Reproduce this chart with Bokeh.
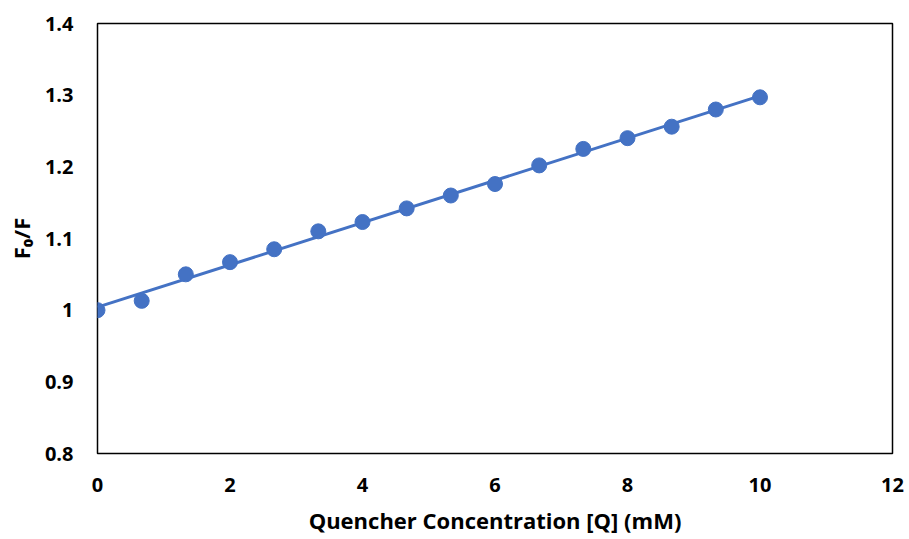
import numpy as np
from bokeh.plotting import figure
from bokeh.models import FixedTicker, Range1d
from bokeh.embed import file_html
from bokeh.resources import INLINE

# Data
conc = [0, 0.667, 1.333, 2, 2.667, 3.333, 4, 4.667, 5.333, 6, 6.667, 7.333, 8, 8.667, 9.333, 10]
f0_f = [1.0, 1.013, 1.05, 1.067, 1.085, 1.11, 1.123, 1.142, 1.16, 1.176, 1.202, 1.225, 1.24, 1.256, 1.28, 1.297]

x_ticks = [0, 2, 4, 6, 8, 10, 12]
x_tick_labels = ["0", "2", "4", "6", "8", "10", "12"]
y_ticks = [0.8, 0.9, 1.0, 1.1, 1.2, 1.3, 1.4]
y_tick_labels = ["0.8", "0.9", "1", "1.1", "1.2", "1.3", "1.4"]

BLUE = "#4472C4"
FONT = "Open Sans"

p = figure(width=909, height=539, output_backend="svg", toolbar_location=None,
           x_range=Range1d(0, 12), y_range=Range1d(0.8, 1.4),
           min_border_left=97, min_border_right=17, min_border_top=23, min_border_bottom=86)

# linear trendline (least squares fit of the data)
slope, intercept = np.polyfit(conc, f0_f, 1)
fit_x = [min(conc), max(conc)]
fit_y = [intercept + slope * v for v in fit_x]
p.line(fit_x, fit_y, line_color=BLUE, line_width=3)
p.scatter(conc, f0_f, size=15, fill_color=BLUE, line_color=BLUE)

p.outline_line_color = "black"
p.outline_line_width = 1.5
p.xgrid.visible = False
p.ygrid.visible = False

for ax in (p.xaxis[0], p.yaxis[0]):
    ax.axis_line_color = None
    ax.major_tick_line_color = None
    ax.minor_tick_line_color = None
    ax.major_label_text_font = FONT
    ax.major_label_text_font_style = "bold"
    ax.major_label_text_font_size = "20px"
    ax.major_label_text_color = "#000000"
    ax.axis_label_text_font = FONT
    ax.axis_label_text_font_style = "bold"
    ax.axis_label_text_font_size = "22px"
    ax.axis_label_text_color = "#000000"

p.xaxis.ticker = FixedTicker(ticks=x_ticks)
p.xaxis.major_label_overrides = dict(zip(x_ticks, x_tick_labels))
p.yaxis.ticker = FixedTicker(ticks=y_ticks)
p.yaxis.major_label_overrides = dict(zip(y_ticks, y_tick_labels))

p.xaxis.major_label_standoff = 18
p.yaxis.major_label_standoff = 18
p.xaxis.axis_label = "Quencher Concentration [Q] (mM)"
p.yaxis.axis_label = "F₀/F"
p.xaxis.axis_label_standoff = 10
p.yaxis.axis_label_standoff = 6

open("out.html", "w").write(file_html(p, INLINE))
